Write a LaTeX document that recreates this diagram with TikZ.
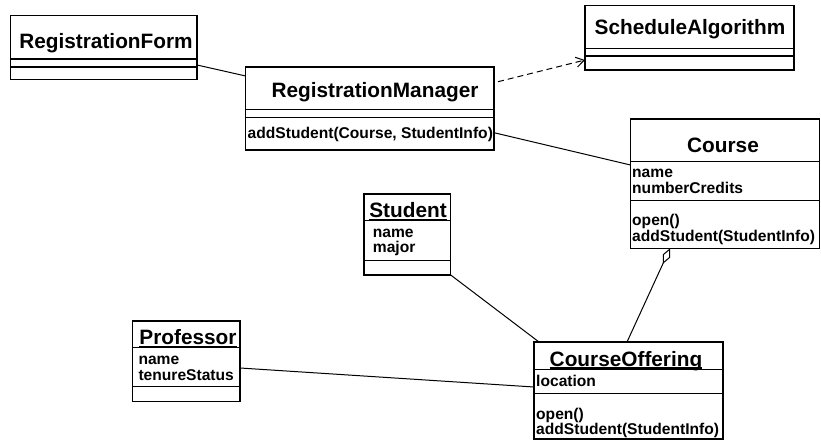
\documentclass[tikz,border=0pt]{standalone}
\usepackage{fontspec}
\setmainfont{Liberation Sans}
\usetikzlibrary{arrows.meta}
\tikzset{
  classbox/.style={draw=black, line width=1.3pt, fill=none, inner sep=0pt, outer sep=0pt},
  comp/.style={line width=1.2pt},
  conn/.style={line width=1pt},
  ctitle/.style={inner sep=0pt, anchor=base, font=\fontsize{20.8}{24}\selectfont\bfseries},
  cattr/.style={inner sep=0pt, anchor=base west, font=\fontsize{15.6}{15.7}\selectfont\bfseries},
  uline/.style={line width=1.1pt}
}
\begin{document}
\begin{tikzpicture}[x=1pt,y=-1pt]
\useasboundingbox (0,0) rectangle (821,441);
% boxes
\node[classbox, minimum width=186.5pt, minimum height=64pt] (rf) at (103.75,47.5) {};
\node[classbox, minimum width=248.3pt, minimum height=83pt] (rm) at (369.85,108.5) {};
\node[classbox, minimum width=209pt, minimum height=64.3pt] (sa) at (689.5,37.85) {};
\node[classbox, minimum width=189pt, minimum height=129.3pt] (course) at (725,183.65) {};
\node[classbox, minimum width=86.7pt, minimum height=81pt] (student) at (407.35,234.5) {};
\node[classbox, minimum width=107.7pt, minimum height=80.7pt] (prof) at (186.15,361.35) {};
\node[classbox, minimum width=189pt, minimum height=97pt] (co) at (628.5,390.5) {};
% compartments
\draw[comp] ([yshift=-43.5pt]rf.north west) -- ([yshift=-43.5pt]rf.north east);
\draw[comp] ([yshift=-51.5pt]rf.north west) -- ([yshift=-51.5pt]rf.north east);
\draw[comp] ([yshift=-42.3pt]rm.north west) -- ([yshift=-42.3pt]rm.north east);
\draw[comp] ([yshift=-50.3pt]rm.north west) -- ([yshift=-50.3pt]rm.north east);
\draw[comp] ([yshift=-43pt]sa.north west) -- ([yshift=-43pt]sa.north east);
\draw[comp] ([yshift=-50.3pt]sa.north west) -- ([yshift=-50.3pt]sa.north east);
\draw[comp] ([yshift=-42.7pt]course.north west) -- ([yshift=-42.7pt]course.north east);
\draw[comp] ([yshift=-81.7pt]course.north west) -- ([yshift=-81.7pt]course.north east);
\draw[comp] ([yshift=-26.7pt]student.north west) -- ([yshift=-26.7pt]student.north east);
\draw[comp] ([yshift=-66.7pt]student.north west) -- ([yshift=-66.7pt]student.north east);
\draw[comp] ([yshift=-26.7pt]prof.north west) -- ([yshift=-26.7pt]prof.north east);
\draw[comp] ([yshift=-65.7pt]prof.north west) -- ([yshift=-65.7pt]prof.north east);
\draw[comp] ([yshift=-27.5pt]co.north west) -- ([yshift=-27.5pt]co.north east);
\draw[comp] ([yshift=-51.3pt]co.north west) -- ([yshift=-51.3pt]co.north east);
% titles
\node[ctitle] (rft) at (106,48.3) {RegistrationForm};
\node[ctitle] (rmt) at (375,97.5) {RegistrationManager};
\node[ctitle] (sat) at (690,35) {ScheduleAlgorithm};
\node[ctitle] (coursetitle) at (723,152.5) {Course};
\node[ctitle] (stt) at (408,217) {Student};
\node[ctitle] (prt) at (188,344) {Professor};
\node[ctitle] (cot) at (626,366) {CourseOffering};
\draw[uline] ([yshift=-2.3pt]stt.base west) -- ([yshift=-2.3pt]stt.base east);
\draw[uline] ([yshift=-2.3pt]prt.base west) -- ([yshift=-2.3pt]prt.base east);
\draw[uline] ([yshift=-2pt]cot.base west) -- ([yshift=-2pt]cot.base east);
% attributes and operations
\node[cattr] (rmop) at (247.5,138.5) {addStudent(Course, StudentInfo)};
\node[cattr] (ca1) at (632,177.5) {name};
\node[cattr] (ca2) at (632,193.2) {numberCredits};
\node[cattr] (co1) at (632,225.5) {open()};
\node[cattr] (co2) at (632,241) {addStudent(StudentInfo)};
\node[cattr] (sa1) at (372.7,237.5) {name};
\node[cattr] (sa2) at (372.7,252.5) {major};
\node[cattr] (pa1) at (138.3,364.5) {name};
\node[cattr] (pa2) at (138.3,380) {tenureStatus};
\node[cattr] (oa1) at (536,386.5) {location};
\node[cattr] (oo1) at (536,419) {open()};
\node[cattr] (oo2) at (536,434) {addStudent(StudentInfo)};
% connectors
\draw[conn] ([yshift=-49.5pt]rf.north east) -- ([yshift=-9pt]rm.north west);
\draw[conn, dashed, dash pattern=on 6pt off 4pt, -{Straight Barb[length=8pt,width=10pt]}]
  ([shift={(4pt,-14.7pt)}]rm.north east) -- ([yshift=-54.3pt]sa.north west);
\draw[conn] ([yshift=-65.7pt]rm.north east) -- ([yshift=-46pt]course.north west);
\draw[conn, -{Diamond[open,length=17pt,width=8pt]}] ([xshift=-1.5pt]co.north) -- ([xshift=-55pt]course.south);
\draw[conn] (student.south east) -- ([xshift=5pt]co.north west);
\draw[conn] ([yshift=-47pt]prof.north east) -- ([yshift=-45pt]co.north west);
\end{tikzpicture}
\end{document}
